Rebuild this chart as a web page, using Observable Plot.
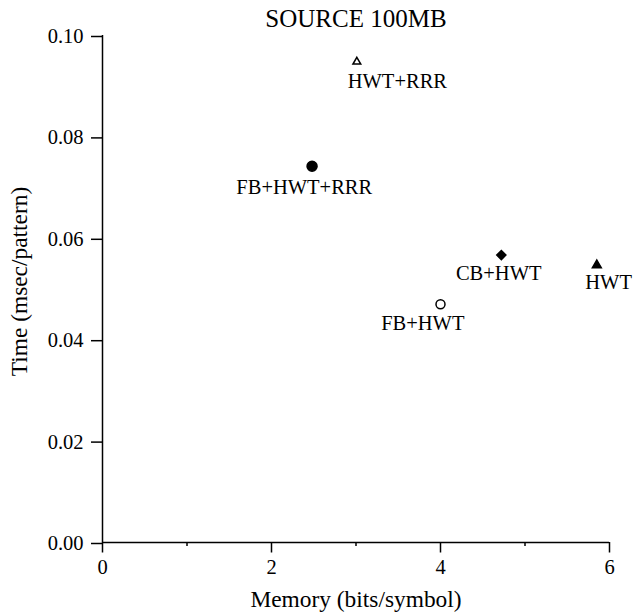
<!DOCTYPE html>
<html>
<head>
<meta charset="utf-8">
<script src="https://cdn.jsdelivr.net/npm/d3@7"></script>
<script src="https://cdn.jsdelivr.net/npm/@observablehq/plot@0.6"></script>
<style>
  html, body { margin: 0; padding: 0; background: #fff; }
  #chart svg { display: block; }
  #chart svg, #chart svg text, #chart svg g {
    font-family: "Liberation Serif", "Times New Roman", Times, serif !important;
  }
  #chart svg text { fill: #000; }
</style>
</head>
<body>
<div id="chart"></div>
<script>
// ---- data ----
const title = "SOURCE 100MB";
const xLabel = "Memory (bits/symbol)";
const yLabel = "Time (msec/pattern)";
const methods = ["HWT+RRR", "FB+HWT+RRR", "CB+HWT", "HWT", "FB+HWT"];
const memory  = [3.01, 2.48, 4.72, 5.85, 4.00];
const time    = [0.0948, 0.0742, 0.0567, 0.0547, 0.0470];
const xTicks  = [0, 2, 4, 6];
const xMinorTicks = [1, 3, 5];
const yTicks  = [0, 0.02, 0.04, 0.06, 0.08, 0.10];

// ---- styling (not data) ----
const FONT = "Liberation Serif";
const markerStyle = {
  "HWT+RRR":    {symbol: "triangle", fill: "white", r: 2.9},
  "FB+HWT+RRR": {symbol: "circle",   fill: "black", r: 5},
  "CB+HWT":     {symbol: d3.symbolDiamond2, fill: "black", r: 4.1},
  "HWT":        {symbol: "triangle", fill: "black", r: 3.3},
  "FB+HWT":     {symbol: "circle",   fill: "white", r: 4.5}
};
const labelNudge = {
  "HWT+RRR":    [40.5, 25.8],
  "FB+HWT+RRR": [-7.8, 27.6],
  "CB+HWT":     [-2.6, 24.8],
  "HWT":        [11.8, 24.0],
  "FB+HWT":     [-17.7, 26.0]
};

const rows = methods.map((m, i) => ({method: m, memory: memory[i], time: time[i]}));

const pointMarks = rows.map(d => {
  const s = markerStyle[d.method];
  return Plot.dot([d], {
    x: "memory", y: "time", symbol: () => s.symbol, r: s.r,
    fill: s.fill, stroke: "black", strokeWidth: 1.5
  });
});
const labelMarks = rows.map(d => {
  const [dx, dy] = labelNudge[d.method];
  return Plot.text([d], {
    x: "memory", y: "time", text: "method", dx, dy,
    lineAnchor: "bottom", fontSize: 20.5, fontFamily: FONT, fill: "black"
  });
});

const chart = Plot.plot({
  width: 635,
  height: 612,
  marginLeft: 102,
  marginRight: 26,
  marginTop: 35,
  marginBottom: 70,
  style: {fontFamily: FONT, background: "white", color: "black"},
  x: {domain: [0, 6], label: null},
  y: {domain: [0, 0.10], label: null},
  symbol: {type: "identity"},
  marks: [
    Plot.ruleX([0], {stroke: "black", strokeWidth: 1.5}),
    Plot.ruleY([0], {stroke: "black", strokeWidth: 1.5}),
    Plot.axisX(xTicks, {tickSize: 10.5, tickPadding: 6.5, fontSize: 20.5, fontFamily: FONT, stroke: "black", strokeWidth: 1.5, label: null, tickFormat: d3.format("d")}),
    Plot.axisX(xMinorTicks, {tickSize: 4, tickPadding: 0, stroke: "black", strokeWidth: 1.5, label: null, tickFormat: () => ""}),
    Plot.axisY(yTicks, {tickSize: 11, tickPadding: 8, fontSize: 20.5, fontFamily: FONT, stroke: "black", strokeWidth: 1.5, label: null, tickFormat: d3.format(".2f"), dy: 1}),
    ...pointMarks,
    ...labelMarks,
    Plot.text([title], {frameAnchor: "top", textAnchor: "middle", lineAnchor: "bottom", dy: -8.3, fontSize: 25, fontFamily: FONT, fill: "black"}),
    Plot.text([xLabel], {frameAnchor: "bottom", textAnchor: "middle", lineAnchor: "bottom", dy: 64.2, fontSize: 23.4, fontFamily: FONT, fill: "black"}),
    Plot.text([yLabel], {frameAnchor: "left", textAnchor: "middle", lineAnchor: "bottom", rotate: -90, dx: -75.5, dy: -7.5, fontSize: 23.4, fontFamily: FONT, fill: "black"})
  ]
});
document.getElementById("chart").appendChild(chart);
</script>
</body>
</html>
